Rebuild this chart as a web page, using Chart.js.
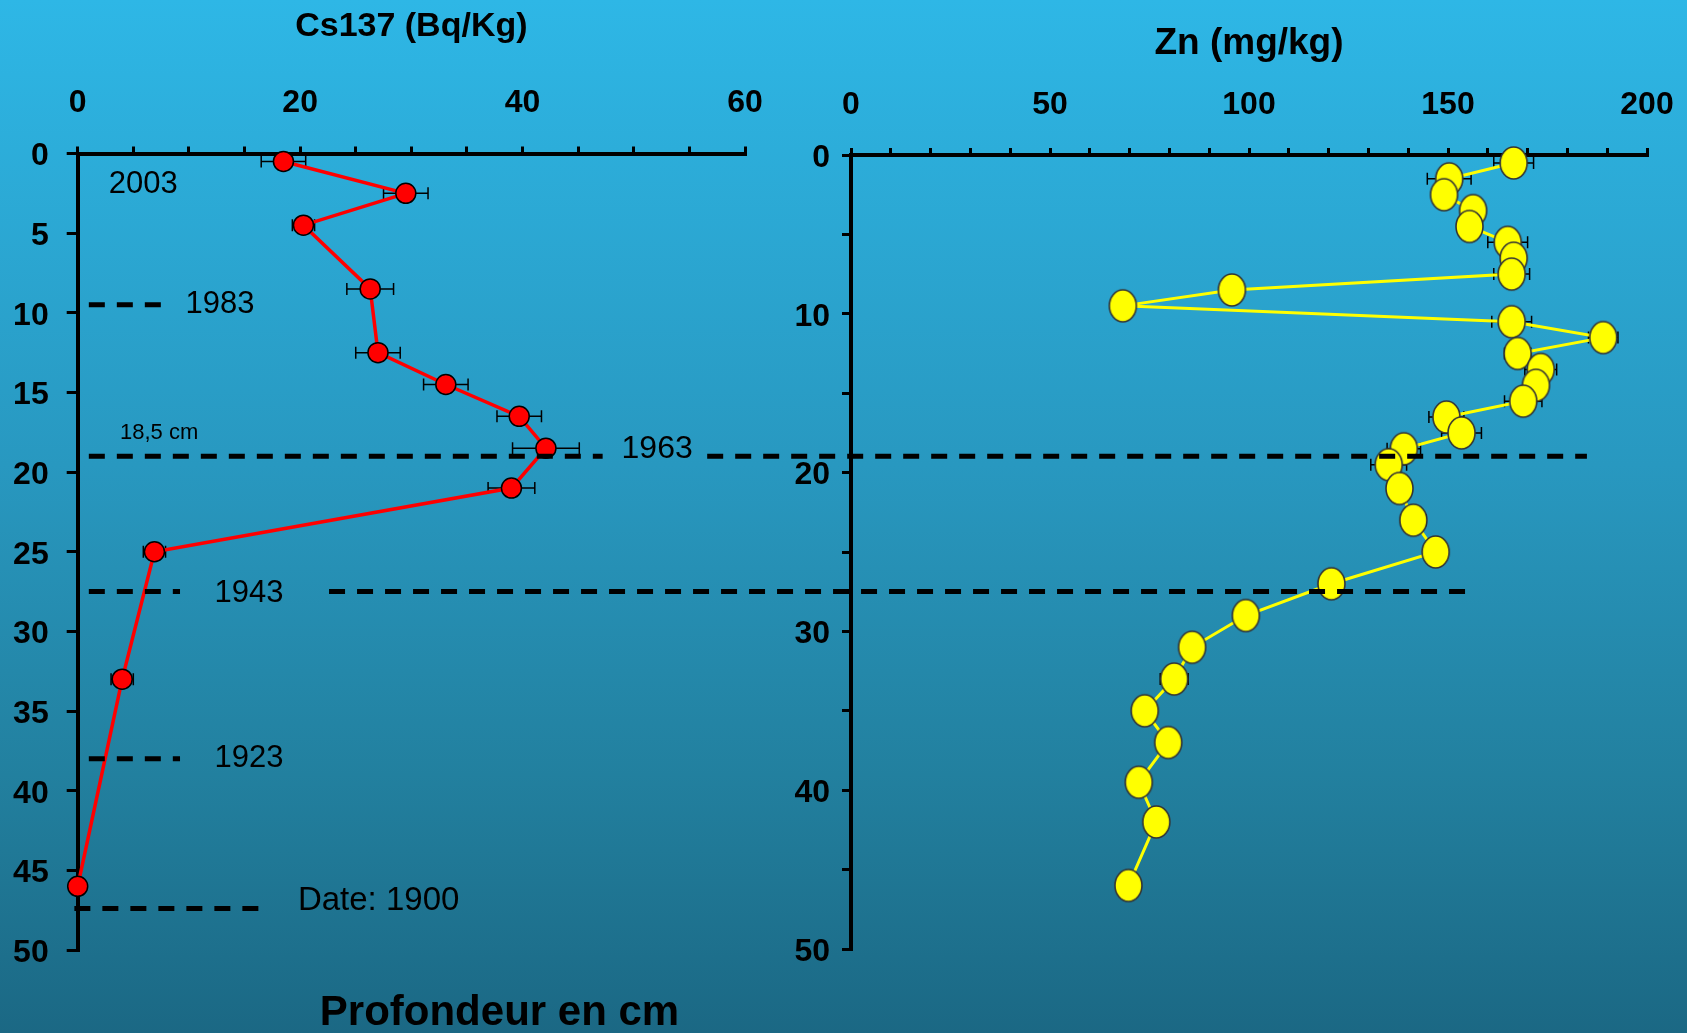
<!DOCTYPE html>
<html>
<head>
<meta charset="utf-8">
<title>Cs137 / Zn profondeur</title>
<script src="https://cdn.jsdelivr.net/npm/chart.js@4.4.1/dist/chart.umd.min.js"></script>
<style>
html,body{margin:0;padding:0;width:1687px;height:1033px;overflow:hidden;
 background:linear-gradient(to bottom,#2eb7e6 0%,#2898c0 45%,#22809f 75%,#1b6884 100%)}
canvas{position:absolute;left:0;top:0}
#zn{z-index:1}
#cs{z-index:2}
</style>
</head>
<body>
<canvas id="zn" width="1687" height="1033"></canvas>
<canvas id="cs" width="1687" height="1033"></canvas>
<script>
/* Cs137 et Zn en fonction de la profondeur */
const FF='"Liberation Sans", Arial, Helvetica, sans-serif';

// Cs137 (Bq/Kg)
const csDepth=[0.5,2.5,4.5,8.5,12.5,14.5,16.5,18.5,21,25,33,46];
const csVal=[18.5,29.5,20.3,26.3,27.0,33.1,39.7,42.1,39.0,6.9,4.0,0];
const csErr=[2,2,1,2.1,2,2,2,3,2.1,1,1,0];

// Zn (mg/kg)
const znDepth=[0.5,1.5,2.5,3.5,4.5,5.5,6.5,7.5,8.5,9.5,10.5,11.5,12.5,13.5,14.5,15.5,
 16.5,17.5,18.5,19.5,21,23,25,27,29,31,33,35,37,39.5,42,46];
const znVal=[166.5,150.3,149,156.3,155.4,165,166.5,166,95.7,68.3,166,189,167.5,173.3,172.1,168.9,
 149.6,153.4,138.9,135.1,137.8,141.3,146.9,120.7,99.2,85.7,81.2,73.8,79.7,72.3,76.7,69.7];
const znErr=[5,5.5,2,2,2,5,2,4.5,2,2,5,3.7,3.3,4,2,4.7,4.4,5,4.2,4.5,2,3.2,2,2,2,2,3.5,2,2,2,2,2];

// tick labels
const csTickLabels=[0,20,40,60];
const znTickLabels=[0,50,100,150,200];
const depthLabelsL=[0,5,10,15,20,25,30,35,40,45,50];
const depthLabelsR=[0,10,20,30,40,50];

// dated horizons (dashed), x in Cs units
const dashDepth=[9.5,19,19,27.5,27.5,38,47.4];
const dashFrom=[1.0,1.0,56.6,1.0,22.6,1.0,-0.3];
const dashTo=[7.8,47.2,135.7,9.2,125.8,9.2,17.3];

// notes
const noteText=['2003','1983','18,5 cm','1963','1943','1923','Date: 1900'];
const noteX=[2.8,9.7,3.8,48.9,12.3,12.3,19.8];
const noteDepth=[1.95,9.5,17.55,18.55,27.6,38.0,46.9];
const noteSize=[31,31,22,32,31,31,33];

function pts(xs,ys){return xs.map(function(v,i){return{x:v,y:ys[i]}})}

function ellipseMark(w,h){
 var c=document.createElement('canvas');c.width=w+4;c.height=h+4;
 var g=c.getContext('2d');g.beginPath();
 g.ellipse(c.width/2,c.height/2,w/2,h/2,0,0,Math.PI*2);
 g.fillStyle='#ffff00';g.fill();g.lineWidth=1.6;g.strokeStyle='#333';g.stroke();
 return c
}

const errPlugin={id:'errbars',beforeDatasetsDraw(ch){
 var c=ch.ctx,xs=ch.scales.x,ys=ch.scales.y;
 ch.data.datasets.forEach(function(ds){
  if(!ds.xErr)return;
  c.save();c.strokeStyle='#000';c.lineWidth=1.5;
  ds.data.forEach(function(p,i){
   var e=ds.xErr[i];if(!e)return;
   var a=xs.getPixelForValue(p.x-e),b=xs.getPixelForValue(p.x+e),y=ys.getPixelForValue(p.y);
   c.beginPath();c.moveTo(a,y);c.lineTo(b,y);
   c.moveTo(a,y-6);c.lineTo(a,y+6);c.moveTo(b,y-6);c.lineTo(b,y+6);c.stroke()
  });
  c.restore()
 })
}};

const notePlugin={id:'notes',afterDatasetsDraw(ch){
 var c=ch.ctx,xs=ch.scales.x,ys=ch.scales.y;
 c.save();c.fillStyle='#000';c.textBaseline='middle';c.textAlign='left';
 noteText.forEach(function(t,i){
  c.font=noteSize[i]+'px '+FF;
  c.fillText(t,xs.getPixelForValue(noteX[i]),ys.getPixelForValue(noteDepth[i]))
 });
 c.font='bold 42px '+FF;c.textAlign='center';
 c.fillText('Profondeur en cm',499.5,1013);
 c.restore()
}};

function xAxis(max,step,labels,title,tsize,tpad,h){
 return{type:'linear',position:'top',min:0,max:max,
  afterFit:function(s){s.height=h;s.paddingLeft=0;s.paddingRight=0},
  border:{display:true,color:'#000',width:4},
  grid:{display:true,drawOnChartArea:false,drawTicks:true,tickLength:7,color:'#000',lineWidth:3},
  ticks:{stepSize:step,autoSkip:false,maxRotation:0,padding:24,color:'#000',
   font:{family:FF,size:32,weight:'bold'},
   callback:function(v){return labels.indexOf(v)>=0?String(v):''}},
  title:{display:true,text:title,color:'#000',padding:{top:tpad,bottom:0},
   font:{family:FF,size:tsize,weight:'bold'}}}
}
function yAxis(labels,w,tl,pad){
 return{type:'linear',position:'left',reverse:true,min:0,max:50,
  afterFit:function(s){s.width=w;s.paddingTop=0;s.paddingBottom=0},
  border:{display:true,color:'#000',width:4},
  grid:{display:true,drawOnChartArea:false,drawTicks:true,tickLength:tl,color:'#000',lineWidth:3},
  ticks:{stepSize:5,autoSkip:false,padding:pad,labelOffset:3,color:'#000',
   font:{family:FF,size:32,weight:'bold'},
   callback:function(v){return labels.indexOf(v)>=0?String(v):''}}}
}

var dashSets=dashDepth.map(function(d,i){
 return{data:[{x:dashFrom[i],y:d},{x:dashTo[i],y:d}],showLine:true,borderColor:'#000',
  borderWidth:5,borderDash:[16,12],pointRadius:0,clip:false}
});

new Chart(document.getElementById('cs'),{
 type:'scatter',
 data:{datasets:dashSets.concat([{
  data:pts(csVal,csDepth),xErr:csErr,showLine:true,borderColor:'#ff0000',borderWidth:3.5,
  pointStyle:'circle',pointRadius:10,pointBackgroundColor:'#ff0000',pointBorderColor:'#000',
  pointBorderWidth:1.5,clip:false}])},
 options:{responsive:false,devicePixelRatio:1,animation:false,events:[],
  layout:{padding:{left:0,top:0,right:942,bottom:83}},
  plugins:{legend:{display:false},tooltip:{enabled:false}},
  scales:{x:xAxis(60,5,csTickLabels,'Cs137 (Bq/Kg)',34,6,153.5),y:yAxis(depthLabelsL,77.7,11,18)}},
 plugins:[errPlugin,notePlugin]
});

new Chart(document.getElementById('zn'),{
 type:'scatter',
 data:{datasets:[{
  data:pts(znVal,znDepth),xErr:znErr,showLine:true,borderColor:'#ffff00',borderWidth:3,
  pointStyle:ellipseMark(27,32),pointRadius:15,clip:false}]},
 options:{responsive:false,devicePixelRatio:1,animation:false,events:[],
  layout:{padding:{left:0,top:0,right:40,bottom:84}},
  plugins:{legend:{display:false},tooltip:{enabled:false}},
  scales:{x:xAxis(200,10,znTickLabels,'Zn (mg/kg)',37,22,155),y:yAxis(depthLabelsR,851,9,12)}},
 plugins:[errPlugin]
});
</script>
</body>
</html>
